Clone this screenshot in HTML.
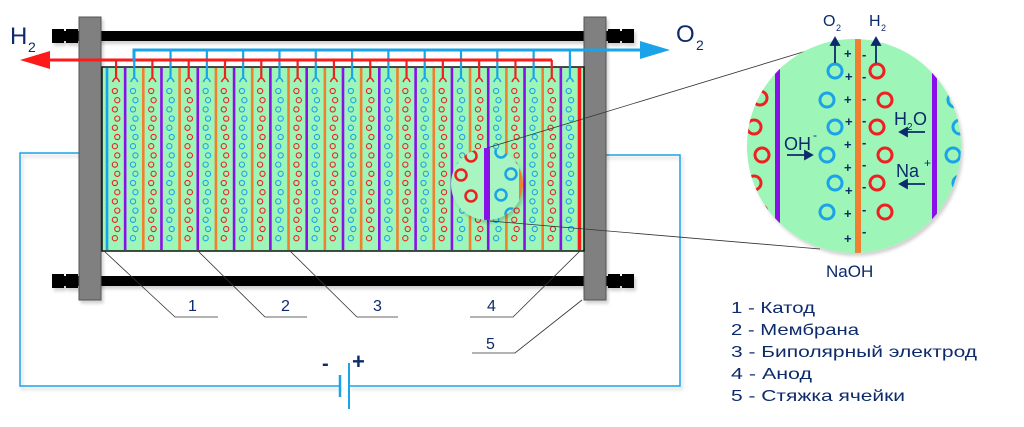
<!DOCTYPE html>
<html><head><meta charset="utf-8"><style>
html,body{margin:0;padding:0;background:#fff;}
svg{display:block;font-family:"Liberation Sans",sans-serif;}
</style></head><body>
<svg id="s" width="1024" height="427" viewBox="0 0 1024 427" xmlns="http://www.w3.org/2000/svg">
<defs>
<filter id="sh" x="-10%" y="-10%" width="130%" height="130%"><feDropShadow dx="2" dy="3" stdDeviation="1.5" flood-color="#000" flood-opacity="0.18"/></filter>
<clipPath id="bc"><circle cx="854" cy="146" r="107"/></clipPath>
<clipPath id="sc"><circle cx="487" cy="184" r="36"/></clipPath>
</defs>
<g fill="none" stroke="#1aa3e8" stroke-width="1.5" filter="url(#sh)">
<path d="M104 153 H20 V386 H340 M349 386 H680 V155 H604"/>
</g>
<line x1="340" y1="375" x2="340" y2="397" stroke="#1aa3e8" stroke-width="2.5"/>
<line x1="349" y1="363" x2="349" y2="409" stroke="#1aa3e8" stroke-width="2"/>
<text x="322" y="370" font-size="20" font-weight="bold" fill="#0d2a6b">-</text>
<text x="352" y="369" font-size="22" font-weight="bold" fill="#0d2a6b">+</text>
<g filter="url(#sh)">
<rect x="60" y="31" width="570" height="10" fill="#000"/>
<rect x="52" y="29" width="12" height="14" fill="#000"/><rect x="66" y="29" width="12" height="14" fill="#000"/>
<rect x="608" y="29" width="12" height="14" fill="#000"/><rect x="622" y="29" width="12" height="14" fill="#000"/>
<rect x="60" y="276" width="570" height="10" fill="#000"/>
<rect x="52" y="274" width="12" height="14" fill="#000"/><rect x="66" y="274" width="12" height="14" fill="#000"/>
<rect x="608" y="274" width="12" height="14" fill="#000"/><rect x="622" y="274" width="12" height="14" fill="#000"/>
</g>
<rect x="79" y="17" width="22" height="283" fill="#808080" stroke="#555" stroke-width="1" filter="url(#sh)"/>
<rect x="584" y="17" width="22" height="283" fill="#808080" stroke="#555" stroke-width="1" filter="url(#sh)"/>
<rect x="102" y="67" width="482" height="184" fill="#9ef5b8" stroke="#111" stroke-width="1.5"/>
<g id="cells"></g>
<g id="pipes" fill="none" stroke-width="3"></g>
<polygon points="20,60 50,51 50,69" fill="#ff1a1a"/>
<line x1="48" y1="60" x2="552" y2="60" stroke="#ff1a1a" stroke-width="3"/>
<polygon points="670,50 640,41 640,59" fill="#1aa3e8"/>
<path d="M134 62 V50 H645" fill="none" stroke="#1aa3e8" stroke-width="3"/>
<text x="10" y="44" font-size="24" fill="#0d2a6b">H</text><text x="28" y="52" font-size="14" fill="#0d2a6b">2</text>
<text x="676" y="42" font-size="24" fill="#0d2a6b">O</text><text x="696" y="50" font-size="14" fill="#0d2a6b">2</text>
<g stroke="#333" stroke-width="0.8" fill="none">
<path d="M104 251 L175 317 H218"/>
<path d="M198 251 L265 317 H307"/>
<path d="M290 251 L357 317 H398"/>
<path d="M580 251 L513 317 H470"/>
<path d="M582 300 L515 353 H472"/>
<line x1="487" y1="148" x2="836" y2="42"/>
<line x1="490" y1="221" x2="820" y2="249"/>
</g>
<g font-size="16" fill="#0d2a6b">
<text x="188" y="311">1</text><text x="281" y="311">2</text><text x="373" y="311">3</text><text x="487" y="311">4</text><text x="486" y="349">5</text>
</g>
<g filter="url(#sh)"><circle cx="487" cy="184" r="36" fill="#a8f5c2"/></g>
<g clip-path="url(#sc)">
<rect x="484" y="140" width="6" height="90" fill="#8a10e8"/>
<rect x="519" y="140" width="6" height="90" fill="#f08030"/>
<g fill="none" stroke="#ee2020" stroke-width="2.5"><circle cx="471" cy="156" r="5.5"/><circle cx="461" cy="175" r="5.5"/><circle cx="471" cy="196" r="5.5"/></g>
<g fill="none" stroke="#1aa3e8" stroke-width="2.5"><circle cx="501" cy="152" r="5.5"/><circle cx="511" cy="174" r="5.5"/><circle cx="501" cy="195" r="5.5"/><circle cx="511" cy="214" r="5.5"/></g>
</g>
<g filter="url(#sh)"><circle cx="854" cy="146" r="107" fill="#9ef5b8"/></g>
<g clip-path="url(#bc)">
<rect x="775" y="60" width="5" height="200" fill="#8a10e8"/>
<rect x="932" y="60" width="5" height="200" fill="#8a10e8"/>
<rect x="855" y="30" width="6" height="240" fill="#f08030"/>
<g fill="none" stroke="#ee2020" stroke-width="3"><circle cx="760" cy="98" r="7"/><circle cx="754" cy="127" r="7"/><circle cx="762" cy="155" r="7"/><circle cx="754" cy="183" r="7"/><circle cx="760" cy="212" r="7"/></g>
<g fill="none" stroke="#1aa3e8" stroke-width="3"><circle cx="955" cy="100" r="7"/><circle cx="960" cy="127" r="7"/><circle cx="953" cy="155" r="7"/><circle cx="960" cy="183" r="7"/></g>
</g>
<g fill="none" stroke="#1aa3e8" stroke-width="3"><circle cx="835" cy="71" r="7"/><circle cx="827" cy="100" r="7"/><circle cx="835" cy="127" r="7"/><circle cx="827" cy="155" r="7"/><circle cx="835" cy="183" r="7"/><circle cx="827" cy="212" r="7"/></g>
<g fill="none" stroke="#ee2020" stroke-width="3"><circle cx="877" cy="71" r="7"/><circle cx="885" cy="100" r="7"/><circle cx="877" cy="127" r="7"/><circle cx="885" cy="155" r="7"/><circle cx="877" cy="183" r="7"/><circle cx="885" cy="212" r="7"/></g>
<g font-size="13" font-weight="bold" fill="#0d2a6b">
<text x="844" y="58">+</text><text x="845" y="81">+</text><text x="844" y="104">+</text><text x="845" y="126">+</text><text x="844" y="149">+</text><text x="844" y="172">+</text><text x="845" y="195">+</text><text x="844" y="218">+</text><text x="844" y="243">+</text>
<text x="862" y="59">-</text><text x="862" y="81">-</text><text x="862" y="103">-</text><text x="862" y="125">-</text><text x="862" y="147">-</text><text x="862" y="169">-</text><text x="862" y="191">-</text><text x="862" y="214">-</text><text x="862" y="236">-</text>
</g>
<g stroke="#0d2a6b" stroke-width="1.8" fill="#0d2a6b">
<line x1="835" y1="63" x2="835" y2="44"/><polygon points="831,45 839,45 835,38"/>
<line x1="876" y1="63" x2="876" y2="44"/><polygon points="872,45 880,45 876,38"/>
<line x1="787" y1="155" x2="806" y2="155"/><polygon points="805,151 805,159 812,155"/>
<line x1="925" y1="132" x2="906" y2="132"/><polygon points="907,128 907,136 900,132"/>
<line x1="925" y1="184" x2="906" y2="184"/><polygon points="907,180 907,188 900,184"/>
</g>
<g fill="#0d2a6b">
<text x="823" y="26" font-size="16">O</text><text x="836" y="31" font-size="9">2</text>
<text x="869" y="26" font-size="16">H</text><text x="881" y="31" font-size="9">2</text>
<text x="784" y="150" font-size="18">OH</text><text x="813" y="139" font-size="12">-</text>
<text x="894" y="125" font-size="18">H</text><text x="907" y="130" font-size="10">2</text><text x="913" y="125" font-size="18">O</text>
<text x="896" y="177" font-size="18">Na</text><text x="924" y="167" font-size="12">+</text>
<text x="826" y="277" font-size="17">NaOH</text>
</g>
<g font-size="16" fill="#0d2a6b">
<text x="731" y="313" textLength="84" lengthAdjust="spacingAndGlyphs">1 - Катод</text>
<text x="731" y="335" textLength="128" lengthAdjust="spacingAndGlyphs">2 - Мембрана</text>
<text x="731" y="357" textLength="246" lengthAdjust="spacingAndGlyphs">3 - Биполярный электрод</text>
<text x="731" y="379" textLength="81" lengthAdjust="spacingAndGlyphs">4 - Анод</text>
<text x="731" y="401" textLength="174" lengthAdjust="spacingAndGlyphs">5 - Стяжка ячейки</text>
</g>
<script>
(function(){
var NS="http://www.w3.org/2000/svg";
var cells=document.getElementById("cells"),pipes=document.getElementById("pipes");
function el(p,t,a){var e=document.createElementNS(NS,t);for(var k in a)e.setAttribute(k,a[k]);p.appendChild(e);return e;}
var d=472/26;
for(var j=0;j<26;j++){
 var cx=107+(j+0.5)*d, col=(j%2==0)?"#ee2020":"#1aa3e8";
 for(var k=0;k<17;k++){
  var ox=(k%2==0)?-1.2:1.2;
  el(cells,"circle",{cx:cx+ox,cy:91+k*9.2,r:2.6,fill:"none",stroke:col,"stroke-width":1.1});
 }
 var top=(j%2==0)?60:50;
 el(pipes,"path",{d:"M"+cx+" "+top+" V78",stroke:col,"stroke-width":2.2});
 el(pipes,"path",{d:"M"+(cx-3.5)+" 82 Q"+cx+" 74 "+(cx+3.5)+" 82",stroke:col,"stroke-width":1.5});
}
for(var i=0;i<=26;i++){
 var x=107+i*d,c=i==0?"#1aa3e8":(i==26?"#ff1a1a":(i%2==1?"#8a10e8":"#f08030"));
 el(cells,"rect",{x:x-1.3,y:68,width:i==26?3.5:2.6,height:182,fill:c});
}
})();
</script>
</svg>
</body></html>
